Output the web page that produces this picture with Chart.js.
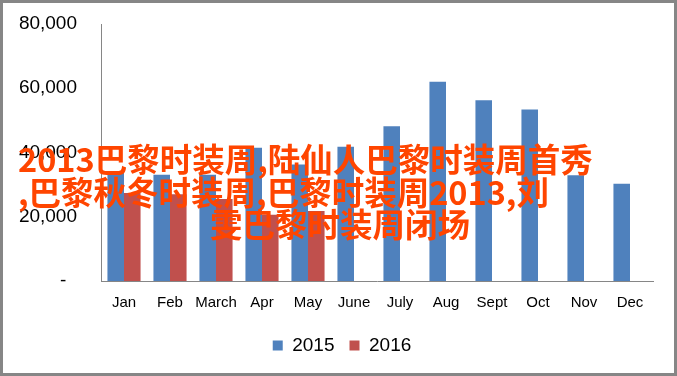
<!DOCTYPE html>
<html>
<head>
<meta charset="utf-8">
<script src="https://cdn.jsdelivr.net/npm/chart.js@4/dist/chart.umd.min.js"></script>
<style>
  html, body { margin: 0; padding: 0; background: #fff; }
  #frame { width: 677px; height: 376px; box-sizing: border-box; border: 3px solid #868686; position: relative; }
  #frame canvas { display: block; }
</style>
</head>
<body>
<div id="frame"><canvas id="chart" width="671" height="370"></canvas></div>
<script>
const months = ['Jan', 'Feb', 'March', 'Apr', 'May', 'June', 'July', 'Aug', 'Sept', 'Oct', 'Nov', 'Dec'];
const sales2015 = [33800, 33100, 33100, 41500, 36300, 41800, 48200, 62000, 56300, 53400, 32900, 30300];
const sales2016 = [27400, 27000, 25500, 20600, 21800, null, null, null, null, null, null, null];
const yTicks = [0, 20000, 40000, 60000, 80000];

// overlay caption (orange text sitting over the chart)
const captionLines = [
  '2013巴黎时装周,陆仙人巴黎时装周首秀',
  ',巴黎秋冬时装周,巴黎时装周2013,刘',
  '雯巴黎时装周闭场',
];
const captionPos = [[15, 157], [15, 190], [207, 222]];

const caption = {
  id: 'caption',
  afterLayout(chart) {
    // legend sits a bit right of canvas centre in the original
    const lg = chart.legend;
    if (lg) { lg.left += 14; lg.right += 14; }
  },
  afterDraw(chart) {
    const ctx = chart.ctx;
    ctx.save();
    ctx.font = 'bold 32.5px "Noto Sans CJK SC"';
    ctx.fillStyle = '#FF4500';
    ctx.textBaseline = 'middle';
    ctx.textAlign = 'left';
    captionLines.forEach((t, i) => ctx.fillText(t, captionPos[i][0], captionPos[i][1]));
    ctx.restore();
  }
};

const axisFont = 'Liberation Sans';

new Chart(document.getElementById('chart'), {
  type: 'bar',
  data: {
    labels: months,
    datasets: [
      {label: '2015', data: sales2015, backgroundColor: '#4F81BD'},
      {label: '2016', data: sales2016, backgroundColor: '#C0504D'},
    ],
  },
  options: {
    responsive: false,
    animation: false,
    categoryPercentage: 0.72,
    barPercentage: 1.0,
    layout: {padding: {left: 0, right: 21, top: 21, bottom: 8}},
    plugins: {
      tooltip: {enabled: false},
      legend: {
        position: 'bottom',
        labels: {
          boxWidth: 10, boxHeight: 10, padding: 15,
          color: '#000', font: {family: axisFont, size: 19},
        },
      },
    },
    scales: {
      x: {
        grid: {display: false, drawTicks: false},
        border: {display: true, color: '#868686', width: 1},
        ticks: {color: '#000', padding: 13, maxRotation: 0, autoSkip: false, font: {family: axisFont, size: 15}},
        afterFit: s => { s.height = 40; },
      },
      y: {
        min: 0, max: 80000,
        grid: {display: false, drawTicks: false},
        border: {display: true, color: '#868686', width: 1},
        afterBuildTicks: s => { s.ticks = yTicks.map(v => ({value: v})); },
        ticks: {
          color: '#000', padding: 24, font: {family: axisFont, size: 19},
          callback: v => v === 0 ? '-  ' : v.toLocaleString('en-US'),
        },
        afterFit: s => { s.width = 98; s.paddingTop = 0; s.paddingBottom = 0; },
      },
    },
  },
  plugins: [caption],
});
</script>
</body>
</html>
